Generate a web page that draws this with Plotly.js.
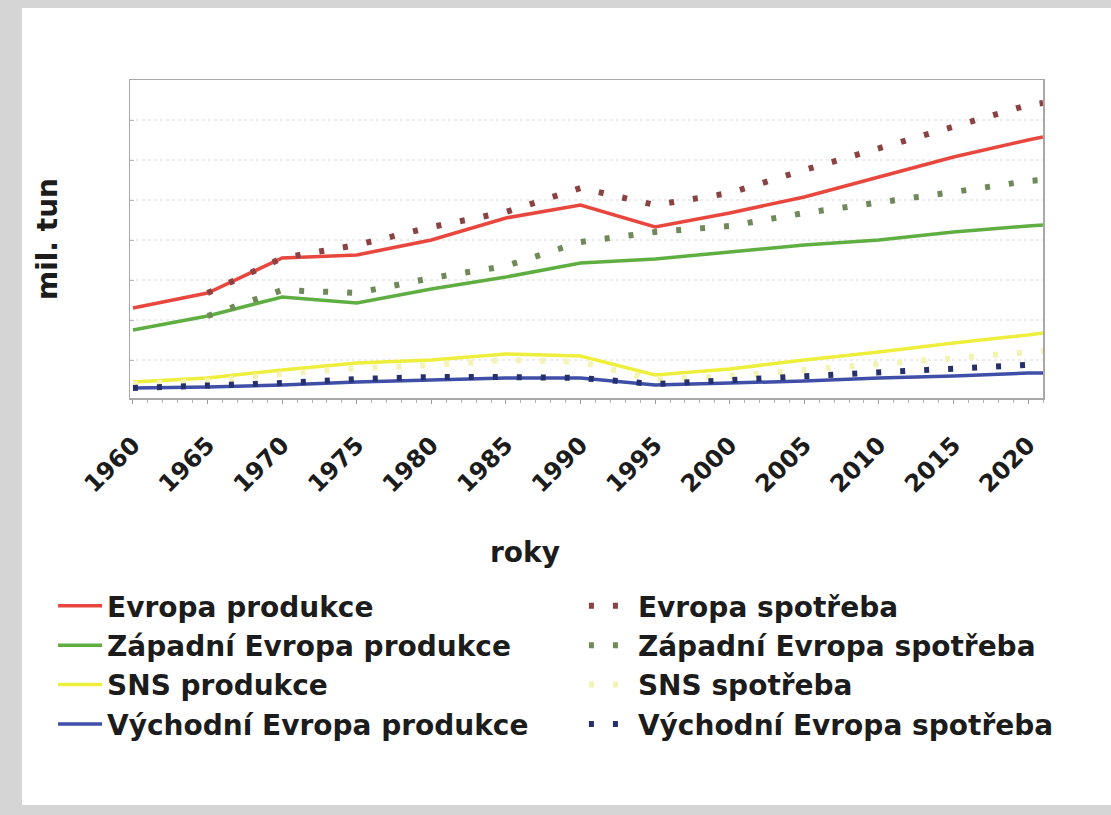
<!DOCTYPE html>
<html>
<head>
<meta charset="utf-8">
<script src="https://cdn.plot.ly/plotly-3.0.1.min.js"></script>
<style>
  html, body { margin:0; padding:0; background:#d5d5d5; width:1111px; height:815px; overflow:hidden; }
  #chart { position:absolute; left:22px; top:8px; width:1089px; height:797px; background:#ffffff; }
</style>
</head>
<body>
<div id="chart"></div>
<script>
const years = [1960,1965,1970,1975,1980,1985,1990,1995,2000,2005,2010,2015,2020,2021];

const evropaProdukce   = [90,105,140,143,158,180,193,171,185,201,221,241,258,261];
const evropaSpotreba   = [null,105,140,153,171,186,210,193,205,228,250,271,293,295];
const zapadniProdukce  = [68,82,101,95,109,121,135,139,146,153,158,166,172,173];
const zapadniSpotreba  = [null,82,108,105,120,132,156,166,172,185,195,206,217,218];
const snsProdukce      = [16,20,28,35,38,44,42,23,29,38,46,55,63,65];
const snsSpotreba      = [14,17,24,30,33,38,36,18,22,28,34,40,46,47];
const vychodniProdukce = [10,11,13,16,18,20,20,13,15,17,20,22,25,25];
const vychodniSpotreba = [10,12,15,19,21,21,20,14,18,22,25,29,33,34];

const names = [
  'Evropa produkce','Západní Evropa produkce','SNS produkce','Východní Evropa produkce',
  'Evropa spotřeba','Západní Evropa spotřeba','SNS spotřeba','Východní Evropa spotřeba'
];
const tickYears = [1960,1965,1970,1975,1980,1985,1990,1995,2000,2005,2010,2015,2020];
const xTitle = 'roky';
const yTitle = 'mil. tun';

const solid = (c) => ({color:c, width:3.5});
const dotted = (c) => ({color:c, width:6, dash:'5px,19px'});

const traces = [
  {y:evropaProdukce,   line:solid('#e9473e'), legend:'legend'},
  {y:zapadniProdukce,  line:solid('#5fae42'), legend:'legend'},
  {y:snsProdukce,      line:solid('#eeee3c'), legend:'legend'},
  {y:vychodniProdukce, line:solid('#3f4fa8'), legend:'legend'},
  {y:evropaSpotreba,   line:dotted('#8a4242'), legend:'legend2'},
  {y:zapadniSpotreba,  line:dotted('#6f8a58'), legend:'legend2'},
  {y:snsSpotreba,      line:dotted('#f3f3b4'), legend:'legend2'},
  {y:vychodniSpotreba, line:dotted('#27306e'), legend:'legend2'}
].map((t,i) => Object.assign({x:years, type:'scatter', mode:'lines', name:names[i], connectgaps:false}, t));

const baseFont = {family:'DejaVu Sans', weight:'bold', color:'#1c1c1c'};
const legendBase = {
  orientation:'v', xref:'container', yref:'container',
  xanchor:'left', y:0.281, yanchor:'top',
  font:Object.assign({size:28}, baseFont),
  bgcolor:'rgba(0,0,0,0)', itemwidth:44, tracegroupgap:0
};

const layout = {
  width:1089, height:797,
  margin:{l:108, r:68, t:72, b:407, autoexpand:false},
  paper_bgcolor:'#ffffff', plot_bgcolor:'#ffffff',
  font: Object.assign({size:26}, baseFont),
  showlegend:true,
  legend:Object.assign({x:0.0285}, legendBase),
  legend2:Object.assign({x:0.516}, legendBase),
  xaxis:{
    range:[1959.8, 2021], tickmode:'array', tickvals:tickYears, ticktext:tickYears.map(String),
    tickangle:-45, tickfont:Object.assign({size:24}, baseFont),
    ticks:'outside', ticklen:4, tickcolor:'#9a9a9a',
    minor:{dtick:1, ticks:'outside', ticklen:3, tickcolor:'#b0b0b0'},
    ticklabelstandoff:18, automargin:false,
    showline:true, linecolor:'#a8a8a8', linewidth:1.5, mirror:true,
    showgrid:false, zeroline:false
  },
  yaxis:{
    range:[0,318], tick0:38, dtick:40, showticklabels:false, automargin:false,
    ticks:'inside', ticklen:4, tickcolor:'#b8b8b8',
    showline:true, linecolor:'#a8a8a8', linewidth:1.5, mirror:true,
    showgrid:true, gridcolor:'#ececec', griddash:'dot', gridwidth:1.5,
    zeroline:false
  },
  annotations:[
    {
      text:xTitle, xref:'paper', yref:'paper', x:0.4326, y:-0.487,
      xanchor:'center', yanchor:'middle', showarrow:false,
      font:Object.assign({size:28}, baseFont)
    },
    {
      text:yTitle, xref:'paper', yref:'paper', x:-0.0909, y:0.5,
      xanchor:'center', yanchor:'middle', showarrow:false, textangle:-90,
      font:Object.assign({size:28}, baseFont)
    }
  ]
};

Plotly.newPlot('chart', traces, layout, {displayModeBar:false, staticPlot:true});
</script>
</body>
</html>
